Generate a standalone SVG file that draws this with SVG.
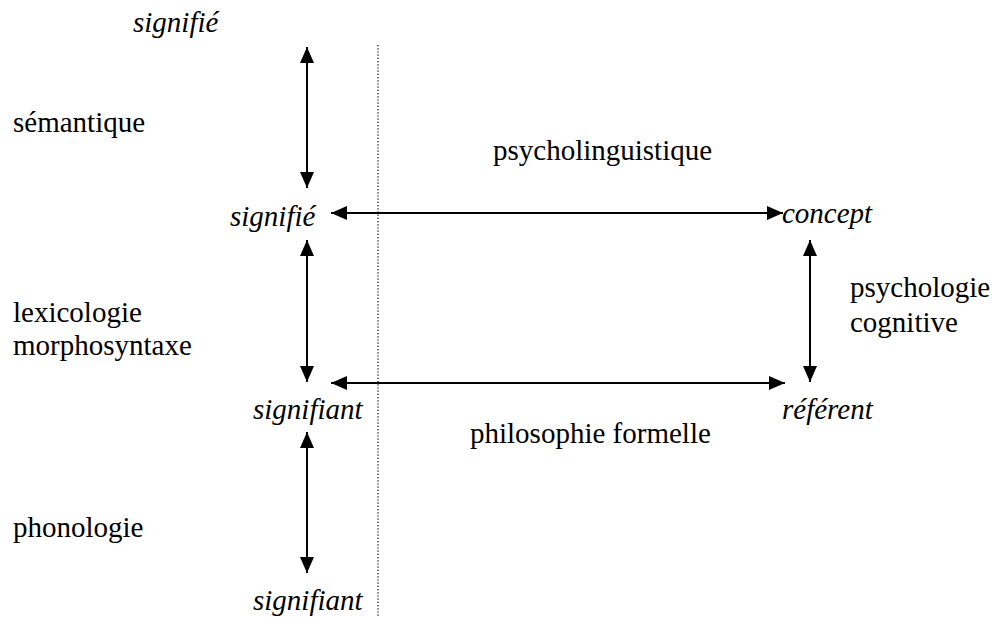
<svg xmlns="http://www.w3.org/2000/svg" width="997" height="617" viewBox="0 0 997 617">
<style>
text{font-family:'Liberation Serif','Times New Roman',Times,serif;font-size:29px;fill:#000}
.it{font-style:italic}
.ln{stroke:#000;stroke-width:2;fill:none}
.dot{stroke:#000;stroke-width:1.2;stroke-dasharray:1.2 2;fill:none}
</style>
<defs>
<marker id="ah" viewBox="0 0 16 14" refX="16" refY="7" markerWidth="16" markerHeight="14" markerUnits="userSpaceOnUse" orient="auto-start-reverse">
<path d="M0,0 L16,7 L0,14 Z" fill="#000"/>
</marker>
</defs>
<rect width="997" height="617" fill="#fff"/>
<g id="connectors">
<line class="dot" x1="378" y1="45" x2="378" y2="617"/>
<line class="ln" x1="307" y1="47" x2="307" y2="188" marker-start="url(#ah)" marker-end="url(#ah)"/>
<line class="ln" x1="307" y1="240" x2="307" y2="382" marker-start="url(#ah)" marker-end="url(#ah)"/>
<line class="ln" x1="307" y1="432" x2="307" y2="573" marker-start="url(#ah)" marker-end="url(#ah)"/>
<line class="ln" x1="810" y1="240" x2="810" y2="382" marker-start="url(#ah)" marker-end="url(#ah)"/>
<line class="ln" x1="331" y1="213" x2="783" y2="213" marker-start="url(#ah)" marker-end="url(#ah)"/>
<line class="ln" x1="331" y1="383" x2="785" y2="383" marker-start="url(#ah)" marker-end="url(#ah)"/>
</g>
<g id="signifie-top"><text class="it" x="133" y="32">signifié</text></g>
<g id="semantique"><text x="13" y="132">sémantique</text></g>
<g id="psycholinguistique"><text x="493" y="160">psycholinguistique</text></g>
<g id="signifie-mid"><text class="it" x="230" y="226">signifié</text></g>
<g id="concept"><text class="it" x="782" y="223">concept</text></g>
<g id="psychologie-cognitive"><text x="850" y="297">psychologie</text><text x="850" y="332">cognitive</text></g>
<g id="lexicologie"><text x="13" y="322">lexicologie</text><text x="13" y="355">morphosyntaxe</text></g>
<g id="signifiant-mid"><text class="it" x="253" y="419">signifiant</text></g>
<g id="referent"><text class="it" x="782" y="419">référent</text></g>
<g id="philosophie"><text x="470" y="443">philosophie formelle</text></g>
<g id="phonologie"><text x="13" y="537">phonologie</text></g>
<g id="signifiant-bottom"><text class="it" x="253" y="610">signifiant</text></g>
</svg>
